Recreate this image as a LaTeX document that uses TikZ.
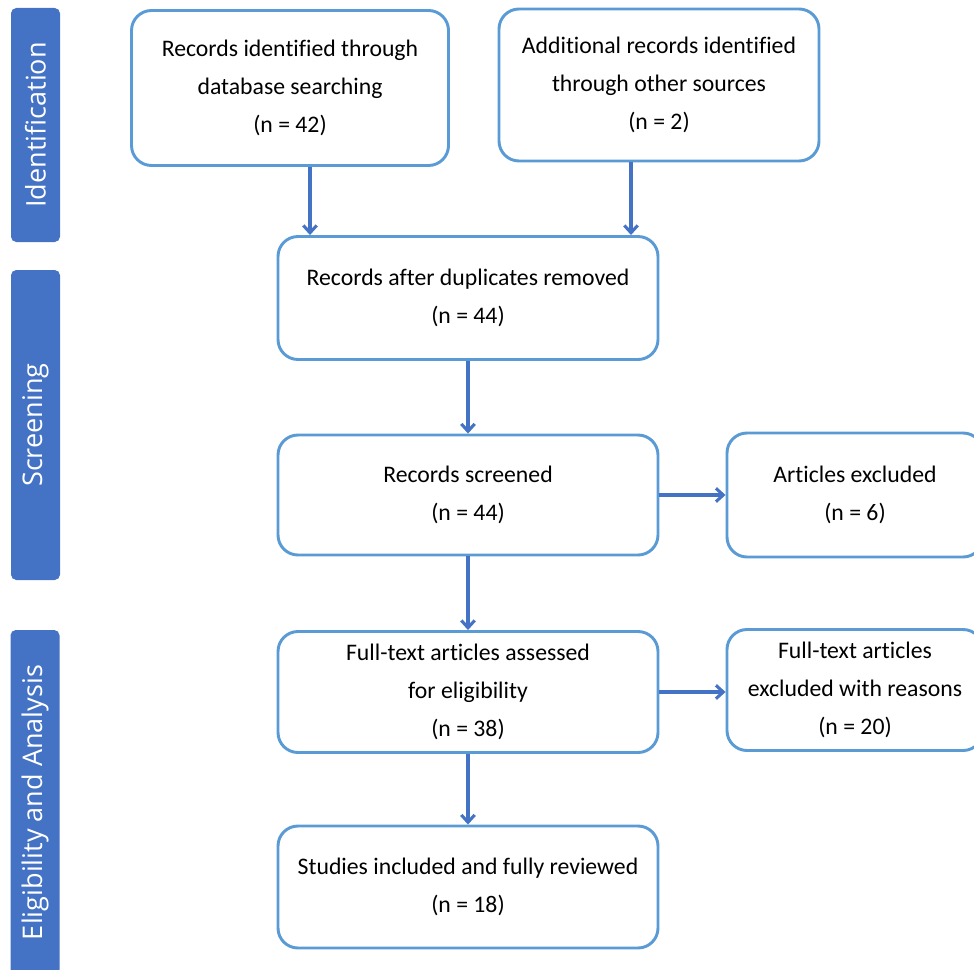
\documentclass[tikz,border=0pt]{standalone}
\usepackage{fontspec}
\setmainfont{Carlito}[Ligatures=NoCommon]
\newfontfamily\stagefont{Open Sans}
\usetikzlibrary{positioning}
\usetikzlibrary{arrows.meta}
\definecolor{boxline}{HTML}{5B9BD5}
\definecolor{arrowblue}{HTML}{4472C4}
\tikzset{
    box/.style={draw=boxline, line width=2.2pt, rounded corners=15pt, fill=white,
        align=center, font=\fontsize{17.8}{28.5}\selectfont, inner sep=0pt},
    stage/.style={fill=arrowblue, rounded corners=4pt, inner sep=0pt,
        minimum width=36.75pt},
    stagetext/.style={rotate=90, text=white, font=\stagefont\fontsize{20.3}{22}\selectfont},
    arrow/.style={draw=arrowblue, line width=2.3pt, -{Straight Barb[length=5.5pt,width=10pt,line width=2.3pt]}}
}
\begin{document}
\begin{tikzpicture}[x=0.75pt,y=-0.75pt]
        \useasboundingbox (0,0) rectangle (974,970);
        % stages on the left
        \node[stage, minimum height=175.5pt] (ident) at (35.5,125) {};
        \node[stagetext] at (ident) {Identification};
        \node[stage, minimum height=232.5pt] (screen) at (35.5,425) {};
        \node[stagetext] at (screen) {Screening};
        \node[stage, minimum height=258.75pt] (elig) at (35,802.5) {};
        \node[stagetext] at (elig) {Eligibility and Analysis};
        % boxes
        \node[box, minimum width=237.75pt, minimum height=116.25pt] (database) at (290,88)
            {Records identified through\\database searching\\(n = 42)};
        \node[box, minimum width=240pt, minimum height=114pt] (other) at (659,85)
            {Additional records identified\\through other sources\\(n = 2)};
        \node[box, minimum width=285pt, minimum height=92.25pt] (removed) at (468,298)
            {Records after duplicates removed\\(n = 44)};
        \node[box, minimum width=285pt, minimum height=90pt] (screened) at (468,495)
            {Records screened\\(n = 44)};
        \node[box, minimum width=192pt, minimum height=93pt] (excluded) at (855,495)
            {Articles excluded\\(n = 6)};
        \node[box, minimum width=285pt, minimum height=90.75pt] (fulltext) at (468,692)
            {Full-text articles assessed\\for eligibility\\(n = 38)};
        \node[box, minimum width=192pt, minimum height=90.75pt] (reasons) at (855,690)
            {Full-text articles\\excluded with reasons\\(n = 20)};
        \node[box, minimum width=285pt, minimum height=91.5pt] (included) at (468,887)
            {Studies included and fully reviewed\\(n = 18)};
        % connectors
        \draw[arrow] (database.south) ++(15pt,0) coordinate (d1) -- (d1 |- removed.north);
        \draw[arrow] (other.south) ++(-21pt,0) coordinate (o1) -- (o1 |- removed.north);
        \draw[arrow] (removed) -- (screened);
        \draw[arrow] (screened) -- (excluded);
        \draw[arrow] (screened) -- (fulltext);
        \draw[arrow] (fulltext.east) -- (fulltext.east -| reasons.west);
        \draw[arrow] (fulltext) -- (included);
\end{tikzpicture}
\end{document}
